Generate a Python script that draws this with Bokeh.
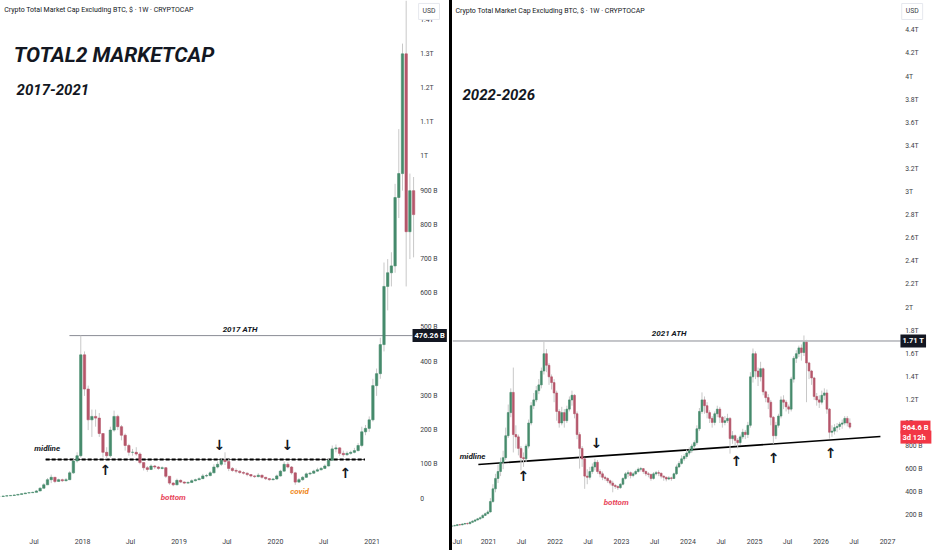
import pandas as pd
from bokeh.plotting import figure
from bokeh.models import ColumnDataSource, FixedTicker, Range1d, Label, Div
from bokeh.layouts import row
from bokeh.embed import file_html
from bokeh.resources import INLINE
from bokeh.core.properties import value

# ---------------- data (values in billions USD, biweekly candles) ----------------
L_START = "2017-02-20"
L_OPEN0 = 5.5
L_CLOSE = [6, 7, 8, 9, 10, 12, 14, 16, 17, 18,
           22, 30, 40, 55, 62, 50, 55, 52, 55, 75,
           110, 125, 420, 320, 230, 240, 235, 190, 135, 125,
           200, 240, 210, 185, 155, 135, 135, 130, 105, 90,
           85, 95, 92, 88, 90, 65, 45, 40, 53, 48,
           45, 47, 52, 55, 58, 66, 67, 75, 92, 100,
           112, 108, 88, 82, 80, 76, 74, 70, 66, 64,
           68, 62, 58, 55, 57, 66, 80, 100, 92, 75,
           48, 55, 62, 72, 74, 80, 84, 88, 95, 112,
           145, 148, 132, 128, 132, 135, 140, 155, 195, 205,
           230, 330, 365, 450, 620, 660, 680, 880, 950, 1300,
           780, 900, 830]
L_HIGH = [7, 8, 9, 10, 12, 13, 15, 17, 18, 20,
          25, 33, 45, 60, 70, 62, 58, 58, 60, 80,
          115, 135, 476.26, 430, 330, 260, 260, 250, 185, 150,
          210, 257, 245, 215, 190, 160, 145, 150, 135, 105,
          95, 100, 98, 95, 94, 92, 62, 48, 58, 56,
          50, 50, 56, 58, 62, 72, 72, 80, 100, 108,
          118, 135, 115, 92, 88, 82, 80, 76, 70, 68,
          74, 70, 63, 60, 60, 70, 84, 108, 106, 95,
          78, 60, 66, 76, 78, 84, 90, 92, 100, 118,
          155, 158, 150, 140, 138, 140, 148, 162, 210, 215,
          240, 350, 380, 470, 690, 700, 720, 920, 1080, 1330,
          1456, 950, 940]
L_LOW = [5, 6, 7, 8, 9, 11, 13, 15, 16, 17,
         18, 22, 30, 40, 45, 45, 50, 48, 50, 55,
         72, 105, 120, 300, 200, 180, 210, 180, 120, 115,
         120, 195, 200, 170, 140, 125, 125, 125, 100, 82,
         78, 83, 86, 84, 85, 60, 40, 36, 39, 45,
         42, 43, 48, 50, 54, 57, 62, 65, 74, 88,
         95, 98, 80, 78, 74, 72, 70, 65, 62, 60,
         62, 58, 54, 52, 53, 55, 64, 78, 88, 70,
         40, 46, 52, 60, 68, 72, 78, 82, 86, 94,
         110, 135, 125, 122, 125, 128, 132, 138, 150, 185,
         195, 225, 300, 350, 430, 550, 620, 660, 820, 900,
         620, 700, 705]

R_START = "2020-06-15"
R_OPEN0 = 105
R_CLOSE = [110, 112, 120, 118, 125, 130, 128, 140, 150, 160,
           170, 180, 200, 215, 230, 320, 430, 520, 580, 660,
           700, 890, 1090, 1265, 900, 880, 780, 700, 690, 800,
           1000, 1150, 1200, 1280, 1330, 1450, 1600, 1500, 1400, 1350,
           1260, 1100, 1000, 1090, 1020, 1120, 1200, 1240, 1080, 900,
           780, 690, 540, 530, 580, 620, 660, 580, 560, 530,
           520, 500, 480, 460, 450, 440, 470, 520, 560, 570,
           545, 560, 580, 600, 605, 580, 560, 555, 520, 560,
           570, 565, 540, 530, 515, 525, 520, 560, 620, 650,
           690, 710, 740, 760, 800, 830, 950, 1100, 1200, 1150,
           1090, 1040, 1005, 1080, 1120, 1050, 1005, 1020, 1040, 865,
           890, 850, 830, 880, 920, 900, 980, 1400, 1600, 1450,
           1400, 1470, 1270, 1220, 1180, 1050, 890, 980, 1060, 1200,
           1180, 1140, 1120, 1380, 1560, 1600, 1650, 1610, 1700, 1520,
           1450, 1390, 1230, 1200, 1180, 1240, 1260, 1120, 920, 930,
           960, 970, 990, 1000, 1040, 1000, 964.6]
R_HIGH = [118, 120, 125, 126, 132, 135, 138, 148, 158, 168,
          178, 190, 210, 225, 245, 350, 470, 560, 640, 700,
          760, 960, 1160, 1300, 1480, 980, 900, 800, 745, 820,
          1030, 1180, 1260, 1320, 1380, 1480, 1710, 1640, 1520, 1420,
          1380, 1280, 1120, 1140, 1120, 1150, 1230, 1280, 1250, 1100,
          920, 800, 700, 600, 620, 650, 690, 680, 600, 580,
          545, 530, 510, 500, 470, 460, 480, 530, 575, 590,
          580, 575, 595, 615, 620, 610, 590, 575, 560, 575,
          585, 590, 570, 545, 535, 540, 535, 570, 640, 670,
          720, 730, 770, 790, 820, 850, 980, 1130, 1265, 1230,
          1180, 1110, 1060, 1100, 1150, 1140, 1060, 1060, 1080, 1050,
          930, 900, 870, 900, 950, 940, 1010, 1440, 1645, 1620,
          1480, 1530, 1480, 1280, 1250, 1200, 1060, 1010, 1080, 1230,
          1240, 1200, 1160, 1400, 1580, 1630, 1670, 1680, 1758, 1720,
          1530, 1460, 1400, 1260, 1240, 1280, 1300, 1290, 1130, 980,
          990, 1000, 1010, 1030, 1060, 1060, 1040]
R_LOW = [100, 105, 110, 112, 116, 122, 120, 126, 138, 148,
         158, 165, 175, 195, 210, 225, 310, 400, 480, 540,
         600, 680, 870, 1050, 745, 780, 720, 590, 620, 660,
         780, 980, 1120, 1180, 1250, 1300, 1420, 1440, 1330, 1290,
         1180, 1020, 960, 980, 960, 1000, 1100, 1150, 1040, 860,
         605, 620, 430, 470, 510, 560, 590, 560, 530, 505,
         500, 480, 460, 400, 430, 420, 430, 460, 510, 530,
         520, 530, 550, 570, 580, 560, 540, 530, 500, 510,
         545, 540, 520, 500, 495, 505, 500, 515, 550, 610,
         640, 670, 690, 720, 740, 780, 810, 930, 1080, 1080,
         1040, 1000, 960, 980, 1050, 1000, 960, 980, 1000, 735,
         820, 800, 780, 810, 860, 860, 870, 960, 1350, 1380,
         1320, 1360, 1240, 1180, 1120, 980, 820, 860, 960, 1040,
         1120, 1100, 1080, 1100, 1350, 1520, 1570, 1540, 1580, 1180,
         1380, 1330, 1200, 1150, 1130, 1160, 1200, 1080, 865, 880,
         900, 920, 940, 950, 980, 970, 950]

L_ATH = 476.26
R_ATH = 1710
R_LAST = 964.6
L_MIDLINE = [114, 114]
R_MIDLINE = [641, 883]

L_YTICKS = [0, 100, 200, 300, 400, 500, 600, 700, 800, 900, 1000, 1100, 1200, 1300, 1400]
L_YLABELS = ["0", "100 B", "200 B", "300 B", "400 B", "500 B", "600 B", "700 B", "800 B",
             "900 B", "1T", "1.1T", "1.2T", "1.3T", "1.4T"]
R_YTICKS = [200, 400, 600, 800, 1000, 1200, 1400, 1600, 1800, 2000, 2200, 2400, 2600, 2800,
            3000, 3200, 3400, 3600, 3800, 4000, 4200, 4400]
R_YLABELS = ["200 B", "400 B", "600 B", "800 B", "1T", "1.2T", "1.4T", "1.6T", "1.8T", "2T",
             "2.2T", "2.4T", "2.6T", "2.8T", "3T", "3.2T", "3.4T", "3.6T", "3.8T", "4T",
             "4.2T", "4.4T"]
L_XTICKS = ["2017-07-01", "2018-01-01", "2018-07-01", "2019-01-01", "2019-07-01",
            "2020-01-01", "2020-07-01", "2021-01-01"]
L_XLABELS = ["Jul", "2018", "Jul", "2019", "Jul", "2020", "Jul", "2021"]
R_XTICKS = ["2020-07-01", "2021-01-01", "2021-07-01", "2022-01-01", "2022-07-01", "2023-01-01",
            "2023-07-01", "2024-01-01", "2024-07-01", "2025-01-01", "2025-07-01", "2026-01-01",
            "2026-07-01", "2027-01-01"]
R_XLABELS = ["Jul", "2021", "Jul", "2022", "Jul", "2023", "Jul", "2024", "Jul", "2025", "Jul",
             "2026", "Jul", "2027"]

HEADER = "Crypto Total Market Cap Excluding BTC, $ \u00b7 1W \u00b7 CRYPTOCAP"

# ---------------- style ----------------
UP = "#468b6c"
DOWN = "#b5566a"
WICK = "#c8c8c8"
INK = "#131722"
AXC = "#3a3d45"
FONT = "Roboto"
DAY = 86400000
H = 550


def ms(s):
    return int(pd.Timestamp(s).value // 10**6)


def make_fig(width, x0, x1, y0, y1, xticks, xlabels):
    p = figure(width=width, height=H, output_backend="svg", toolbar_location=None,
               x_range=Range1d(ms(x0), ms(x1)), y_range=Range1d(y0, y1),
               y_axis_location=None, min_border_left=0, min_border_top=0,
               min_border_bottom=18, min_border_right=0, margin=0)
    p.outline_line_color = None
    p.background_fill_color = "white"
    p.border_fill_color = "white"
    p.xgrid.visible = False
    p.ygrid.visible = False
    xt = [ms(t) for t in xticks]
    ax = p.xaxis[0]
    ax.ticker = FixedTicker(ticks=xt)
    ax.major_label_overrides = {t: l for t, l in zip(xt, xlabels)}
    ax.axis_line_color = None
    ax.major_tick_line_color = None
    ax.major_tick_out = 0
    ax.major_tick_in = 0
    ax.minor_tick_line_color = None
    ax.minor_tick_out = 0
    ax.major_label_text_font = FONT
    ax.major_label_text_font_size = "7px"
    ax.major_label_text_color = AXC
    ax.major_label_standoff = 5
    return p


def price_scale(p, xpos, ticks, labels):
    p.text(x=[ms(xpos)] * len(ticks), y=ticks, text=labels, text_font=value(FONT),
           text_font_size="6.8px", text_color=AXC, text_align="left", text_baseline="middle")


def candles(p, start, open0, close, high, low, width_days):
    dates = pd.date_range(start, periods=len(close), freq="14D")
    x = [ms(d) for d in dates]
    opn = [open0] + list(close[:-1])
    top = [max(o, c) for o, c in zip(opn, close)]
    bot = [min(o, c) for o, c in zip(opn, close)]
    col = [UP if c >= o else DOWN for o, c in zip(opn, close)]
    src = ColumnDataSource(dict(x=x, high=high, low=low, top=top, bottom=bot, color=col))
    p.segment(x0="x", y0="low", x1="x", y1="high", source=src, line_color=WICK, line_width=1)
    p.vbar(x="x", width=width_days * DAY, top="top", bottom="bottom", source=src,
           fill_color="color", line_color="color", line_width=0.6)


def txt(p, d, v, s, size, color=INK, style="bold italic", align="left"):
    p.text(x=[ms(d)], y=[v], text=[s], text_font=value(FONT), text_font_size=size,
           text_font_style=style, text_color=color, text_align=align, text_baseline="middle")


def arrow(p, d, v, up=True):
    p.text(x=[ms(d)], y=[v], text=["\u2191" if up else "\u2193"], text_font=value("DejaVu Sans"),
           text_font_size="14px", text_font_style="bold", text_color=INK,
           text_align="center", text_baseline="middle")


def box(p, d, v, s, bg, fg="white"):
    p.add_layout(Label(x=ms(d), y=v, text=s, text_font=FONT, text_font_size="7.5px",
                       text_font_style="bold", text_color=fg, background_fill_color=bg,
                       text_align="left", text_baseline="middle", padding=2))


def usd(p, d, v):
    p.add_layout(Label(x=ms(d), y=v, text="USD", text_font=FONT, text_font_size="6.8px",
                       text_color=AXC, background_fill_color="white",
                       border_line_color="#e6e8ee", text_align="left",
                       text_baseline="middle", padding=4))


# ---------------- left panel ----------------
LX0, LX1 = "2017-02-24", "2021-10-21"
pl = make_fig(449, LX0, LX1, -99.4, 1456, L_XTICKS, L_XLABELS)
pl.line(x=[ms("2017-11-12"), ms("2021-06-03")], y=[L_ATH, L_ATH], line_color="#8a8d95",
        line_width=1)
pl.line(x=[ms("2017-08-14"), ms("2020-12-05")], y=L_MIDLINE, line_color="#666666", line_width=1)
pl.line(x=[ms("2017-08-14"), ms("2020-12-05")], y=L_MIDLINE, line_color="black", line_width=2,
        line_dash="4 2")
candles(pl, L_START, L_OPEN0, L_CLOSE, L_HIGH, L_LOW, 9)
price_scale(pl, "2021-07-02", L_YTICKS, L_YLABELS)
txt(pl, "2017-03-10", 1427, HEADER, "7px", style="normal")
txt(pl, "2017-04-15", 1298, "TOTAL2 MARKETCAP", "21px")
txt(pl, "2017-04-26", 1196, "2017-2021", "15px")
txt(pl, "2019-08-20", 494, "2017 ATH", "8px", align="center")
txt(pl, "2017-08-20", 146, "midline", "8px", align="center")
txt(pl, "2018-12-10", 3, "bottom", "8px", color="#e8455a", align="center")
txt(pl, "2020-04-01", 20, "covid", "8px", color="#f08a1c", align="center")
arrow(pl, "2018-03-28", 82)
arrow(pl, "2020-09-22", 76)
arrow(pl, "2019-06-03", 155, up=False)
arrow(pl, "2020-02-15", 155, up=False)
box(pl, "2021-06-03", L_ATH, "476.26 B", INK)
usd(pl, "2021-06-26", 1424)

# ---------------- right panel ----------------
RX0, RX1 = "2020-06-17", "2027-09-05"
pr = make_fig(480, RX0, RX1, 52, 4658, R_XTICKS, R_XLABELS)
pr.line(x=[ms(RX0), ms("2027-03-13")], y=[R_ATH, R_ATH], line_color="#8a8d95", line_width=1)
pr.line(x=[ms("2020-11-06"), ms("2026-11-23")], y=R_MIDLINE, line_color="black", line_width=1.6)
candles(pr, R_START, R_OPEN0, R_CLOSE, R_HIGH, R_LOW, 10)
price_scale(pr, "2027-04-08", R_YTICKS, R_YLABELS)
txt(pr, "2020-07-03", 4571, HEADER, "7px", style="normal")
txt(pr, "2020-08-11", 3844, "2022-2026", "15px")
txt(pr, "2023-09-20", 1775, "2021 ATH", "8px", align="center")
txt(pr, "2020-10-05", 710, "midline", "8px", align="center")
txt(pr, "2022-12-03", 312, "bottom", "8px", color="#e8455a", align="center")
arrow(pr, "2021-07-11", 545)
arrow(pr, "2024-09-23", 675)
arrow(pr, "2025-04-15", 693)
arrow(pr, "2026-02-22", 736)
arrow(pr, "2022-08-16", 823, up=False)
box(pr, "2027-03-13", R_ATH, "1.71 T", INK)
box(pr, "2027-03-13", R_LAST, "964.6 B", "#f23645")
box(pr, "2027-03-13", 878, "3d 12h  ", "#f23645")
usd(pr, "2027-03-20", 4563)

sep = Div(width=3, height=H, margin=0, styles={"background-color": "#000000"})
layout = row(pl, sep, pr, spacing=0, margin=0)

open("out.html", "w").write(file_html(layout, INLINE))
